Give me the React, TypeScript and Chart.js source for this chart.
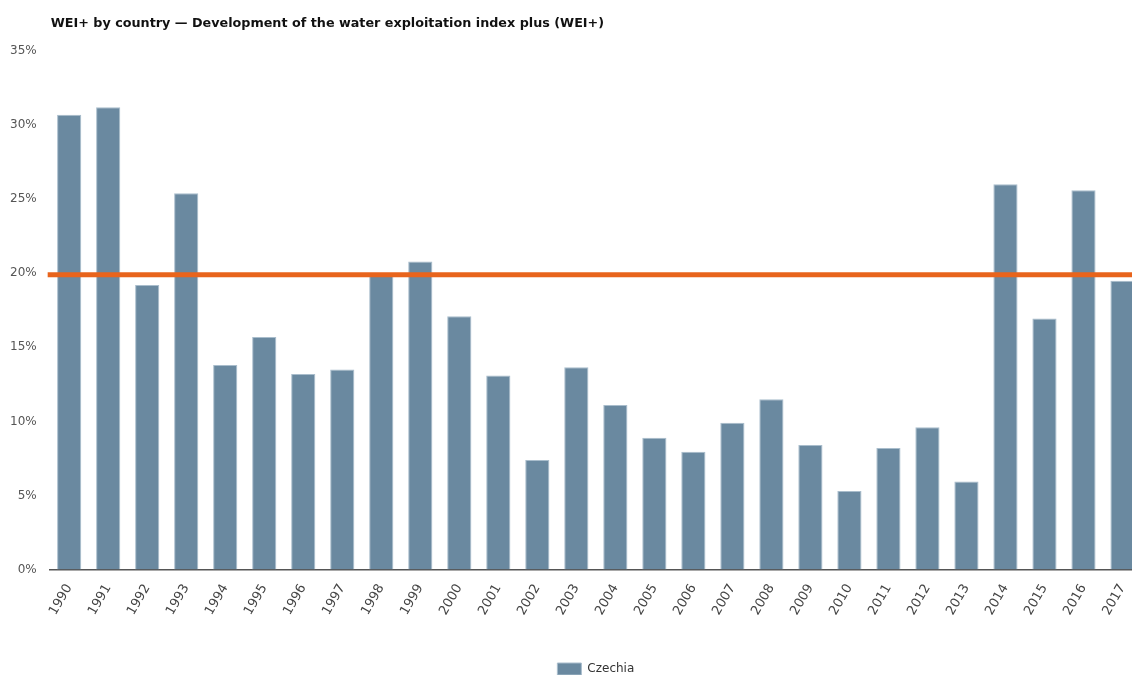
import React, { useEffect, useRef } from "react";
import { Chart, registerables } from "chart.js";

Chart.register(...registerables);

const TITLE = "WEI+ by country — Development of the water exploitation index plus (WEI+)";
const SERIES_LABEL = "Czechia";
const YEARS = [
  "1990", "1991", "1992", "1993", "1994", "1995", "1996", "1997", "1998", "1999",
  "2000", "2001", "2002", "2003", "2004", "2005", "2006", "2007", "2008", "2009",
  "2010", "2011", "2012", "2013", "2014", "2015", "2016", "2017",
];
const WEI_VALUES = [
  30.7, 31.2, 19.2, 25.4, 13.8, 15.7, 13.2, 13.5, 19.9, 20.8,
  17.1, 13.1, 7.4, 13.65, 11.1, 8.9, 7.95, 9.9, 11.5, 8.4,
  5.3, 8.2, 9.6, 5.95, 26.0, 16.95, 25.6, 19.5,
];
const THRESHOLD = 20;
const Y_MIN = 0;
const Y_MAX = 35;
const Y_STEP = 5;

const FONT = "'DejaVu Sans'";

const titlePlugin = {
  id: "leftTitle",
  afterDraw(chart: any) {
    const ctx = chart.ctx;
    ctx.save();
    ctx.font = `bold 12.75px ${FONT}`;
    ctx.fillStyle = "#111";
    ctx.textAlign = "left";
    ctx.textBaseline = "alphabetic";
    ctx.fillText(TITLE, chart.chartArea.left + 1, 27);
    ctx.restore();
  },
};

const legendCenterPlugin = {
  id: "legendOnChartArea",
  afterLayout(chart: any) {
    if (chart.legend) {
      chart.legend.left = chart.chartArea.left;
      chart.legend.right = chart.chartArea.right;
    }
  },
};

const thresholdPlugin = {
  id: "thresholdLine",
  afterDatasetsDraw(chart: any) {
    const y = chart.scales.y.getPixelForValue(THRESHOLD);
    const { left, right } = chart.chartArea;
    const ctx = chart.ctx;
    ctx.save();
    ctx.strokeStyle = "#e8641c";
    ctx.lineWidth = 5;
    ctx.beginPath();
    ctx.moveTo(left - 2, y + 1.5);
    ctx.lineTo(right, y + 1.5);
    ctx.stroke();
    ctx.restore();
  },
};

export default function App() {
  const ref = useRef<HTMLCanvasElement>(null);
  useEffect(() => {
    document.body.style.margin = "0";
    document.body.style.overflow = "hidden";
    const chart = new Chart(ref.current!, {
      type: "bar",
      data: {
        labels: YEARS,
        datasets: [
          {
            label: SERIES_LABEL,
            data: WEI_VALUES,
            backgroundColor: "#6a89a0",
            borderColor: "#a9bdcc",
            borderWidth: 1,
            barPercentage: 0.62,
            categoryPercentage: 1,
          },
        ],
      },
      options: {
        responsive: false,
        animation: false,
        layout: { padding: { left: 5, right: 0, top: 51, bottom: -10 } },
        plugins: {
          title: { display: false },
          tooltip: { enabled: false },
          legend: {
            position: "bottom",
            labels: {
              boxWidth: 24,
              boxHeight: 12,
              padding: 10,
              color: "#333",
              font: { family: FONT, size: 12 },
            },
          },
        },
        scales: {
          x: {
            grid: { display: false },
            border: { display: true, color: "#555", width: 1.5 },
            ticks: {
              minRotation: 60,
              maxRotation: 60,
              color: "#444",
              font: { family: FONT, size: 13 },
              padding: 4,
            },
            afterFit: (scale: any) => {
              scale.height += 31;
            },
          },
          y: {
            min: Y_MIN,
            max: Y_MAX,
            grid: { display: false },
            border: { display: false },
            ticks: {
              stepSize: Y_STEP,
              color: "#555",
              font: { family: FONT, size: 12 },
              padding: 5,
              callback: (v: any) => `${v}%`,
            },
          },
        },
      },
      plugins: [titlePlugin, thresholdPlugin, legendCenterPlugin],
    });
    return () => chart.destroy();
  }, []);
  return (
    <div style={{ position: "absolute", left: 0, top: 0, width: 1132, height: 675, overflow: "hidden", background: "#fff" }}>
      <canvas ref={ref} width={1142} height={675} style={{ display: "block" }} />
    </div>
  );
}
